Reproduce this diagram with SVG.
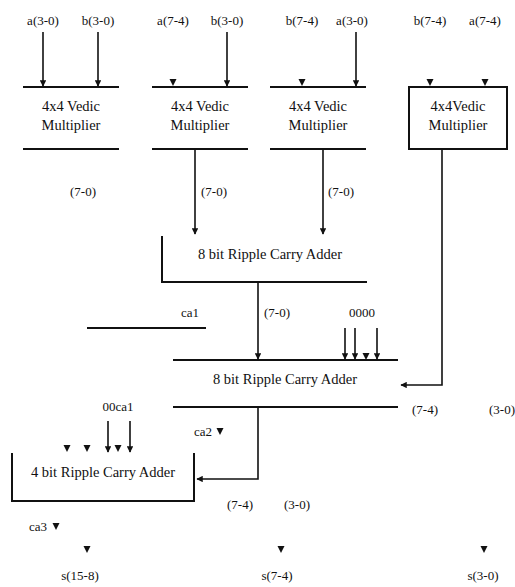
<svg xmlns="http://www.w3.org/2000/svg" width="515" height="587" viewBox="0 0 515 587">
<style>
text{font-family:"Liberation Serif","Times New Roman",serif;font-size:13px;fill:#111;text-anchor:middle}
.big{font-size:14.5px}
.ln{stroke:#111;stroke-width:2;fill:none}
.ar{stroke:#111;stroke-width:1.6;fill:none;marker-end:url(#ah)}
.tri{fill:#111}
</style>
<defs>
<marker id="ah" viewBox="0 0 10 10" refX="9" refY="5" markerWidth="4" markerHeight="4" orient="auto">
<path d="M0,0 L10,5 L0,10 z" fill="#111"/>
</marker>
<path id="tri" d="M-3.5,0 L3.5,0 L0,7 z"/>
</defs>
<rect width="515" height="587" fill="#fff"/>
<g id="mult1">
<text x="43" y="25">a(3-0)</text>
<text x="98" y="25">b(3-0)</text>
<line class="ln" x1="23" y1="87" x2="119" y2="87"/>
<line class="ln" x1="23" y1="149" x2="119" y2="149"/>
<text class="big" x="71" y="111">4x4 Vedic</text>
<text class="big" x="71" y="130">Multiplier</text>
<text x="83" y="196">(7-0)</text>
</g>
<g id="mult2">
<text x="173" y="25">a(7-4)</text>
<text x="227" y="25">b(3-0)</text>
<use href="#tri" x="173" y="79" class="tri"/>
<line class="ln" x1="152" y1="87" x2="248" y2="87"/>
<line class="ln" x1="152" y1="149" x2="248" y2="149"/>
<text class="big" x="200" y="111">4x4 Vedic</text>
<text class="big" x="200" y="130">Multiplier</text>
<text x="214" y="196">(7-0)</text>
</g>
<g id="mult3">
<text x="302" y="25">b(7-4)</text>
<text x="352" y="25">a(3-0)</text>
<use href="#tri" x="302" y="79" class="tri"/>
<line class="ln" x1="270" y1="87" x2="366" y2="87"/>
<line class="ln" x1="270" y1="149" x2="366" y2="149"/>
<text class="big" x="318" y="111">4x4 Vedic</text>
<text class="big" x="318" y="130">Multiplier</text>
<text x="341" y="196">(7-0)</text>
</g>
<g id="mult4">
<text x="430" y="25">b(7-4)</text>
<text x="485" y="25">a(7-4)</text>
<use href="#tri" x="430" y="79" class="tri"/>
<use href="#tri" x="485" y="79" class="tri"/>
<rect class="ln" x="409" y="87" width="98" height="62"/>
<text class="big" x="458" y="111">4x4Vedic</text>
<text class="big" x="458" y="130">Multiplier</text>
</g>
<g id="adder1">
<polyline class="ln" points="162,236 162,282 367,282"/>
<text class="big" x="270" y="259">8 bit Ripple Carry Adder</text>
</g>
<g id="ca1">
<text x="190" y="317">ca1</text>
<line class="ln" x1="87" y1="328" x2="206" y2="328"/>
</g>
<g id="adder2">
<line class="ln" x1="173" y1="360" x2="398" y2="360"/>
<line class="ln" x1="173" y1="407" x2="398" y2="407"/>
<text class="big" x="285" y="384">8 bit Ripple Carry Adder</text>
<text x="277" y="317">(7-0)</text>
<text x="362" y="317">0000</text>
<use href="#tri" x="366" y="353" class="tri"/>
<text x="425" y="414">(7-4)</text>
<text x="502" y="414">(3-0)</text>
</g>
<g id="adder3">
<polyline class="ln" points="12,453 12,501 194,501 194,453"/>
<text class="big" x="103" y="477">4 bit Ripple Carry Adder</text>
<text x="118" y="411">00ca1</text>
<use href="#tri" x="67" y="445" class="tri"/>
<use href="#tri" x="87" y="445" class="tri"/>
<use href="#tri" x="118" y="445" class="tri"/>
<text x="203" y="436">ca2</text>
<use href="#tri" x="220" y="428" class="tri"/>
<text x="240" y="509">(7-4)</text>
<text x="297" y="509">(3-0)</text>
</g>
<g id="outputs">
<text x="38" y="531">ca3</text>
<use href="#tri" x="56" y="523" class="tri"/>
<use href="#tri" x="87" y="546" class="tri"/>
<use href="#tri" x="281" y="546" class="tri"/>
<use href="#tri" x="484" y="546" class="tri"/>
<text x="80" y="580">s(15-8)</text>
<text x="277" y="580">s(7-4)</text>
<text x="483" y="580">s(3-0)</text>
</g>
<g id="connectors">
<line class="ar" x1="43" y1="32" x2="43" y2="86"/>
<line class="ar" x1="98" y1="32" x2="98" y2="86"/>
<line class="ar" x1="227" y1="32" x2="227" y2="86"/>
<line class="ar" x1="356" y1="32" x2="356" y2="86"/>
<line class="ar" x1="195" y1="149" x2="195" y2="234"/>
<line class="ar" x1="323" y1="149" x2="323" y2="234"/>
<line class="ar" x1="258" y1="282" x2="258" y2="359"/>
<polyline class="ar" points="442,149 442,385 401,385"/>
<line class="ar" x1="345" y1="328" x2="345" y2="359"/>
<line class="ar" x1="355" y1="328" x2="355" y2="359"/>
<line class="ar" x1="377" y1="328" x2="377" y2="359"/>
<polyline class="ar" points="258,407 258,479 197,479"/>
<line class="ar" x1="108" y1="421" x2="108" y2="452"/>
<line class="ar" x1="130" y1="421" x2="130" y2="452"/>
</g>
</svg>
